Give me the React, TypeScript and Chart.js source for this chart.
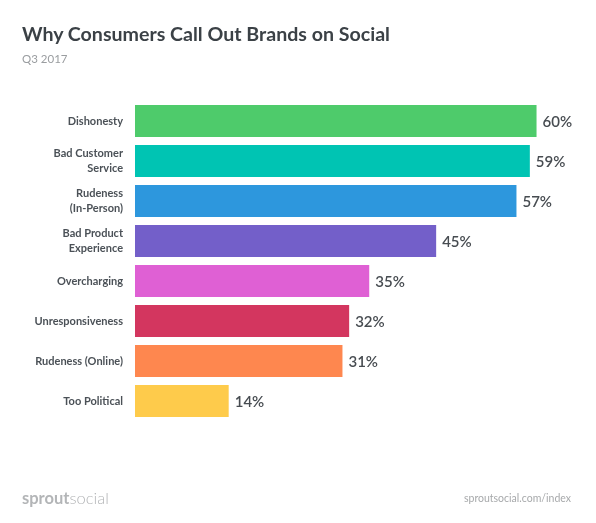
import React, { useEffect, useRef } from 'react';
import { Chart, registerables } from 'chart.js';

Chart.register(...registerables);

// Données
const reasons: (string | string[])[] = [
    'Dishonesty',
    ['Bad Customer', 'Service'],
    ['Rudeness', '(In-Person)'],
    ['Bad Product', 'Experience'],
    'Overcharging',
    'Unresponsiveness',
    'Rudeness (Online)',
    'Too Political',
];
const shares = [60, 59, 57, 45, 35, 32, 31, 14];
const barColors = ['#4ecb6b', '#00c4b3', '#2d97dd', '#735fc9', '#df60d4', '#d3365f', '#fe874f', '#fecb4b'];

const FONT = 'Lato, "Open Sans", sans-serif';

// Plugin pour écrire la valeur au bout de chaque barre
const valueLabels = {
    id: 'valueLabels',
    afterDatasetsDraw(chart: Chart) {
        const ctx = chart.ctx;
        const meta = chart.getDatasetMeta(0);
        ctx.save();
        ctx.font = `600 15px ${FONT}`;
        ctx.fillStyle = '#474c51';
        ctx.textAlign = 'left';
        ctx.textBaseline = 'middle';
        meta.data.forEach((bar: any, i: number) => {
            ctx.fillText(`${shares[i]}%`, bar.x + 6, bar.y + 1);
        });
        ctx.restore();
    },
};

const App: React.FC = () => {
    const canvasRef = useRef<HTMLCanvasElement | null>(null);
    const chartRef = useRef<Chart | null>(null);

    useEffect(() => {
        if (!canvasRef.current) return;
        if (chartRef.current) chartRef.current.destroy();

        chartRef.current = new Chart(canvasRef.current, {
            type: 'bar',
            data: {
                labels: reasons,
                datasets: [{
                    data: shares,
                    backgroundColor: barColors,
                    borderWidth: 0,
                    barPercentage: 0.8,
                    categoryPercentage: 1,
                }],
            },
            options: {
                indexAxis: 'y',
                animation: false,
                responsive: false,
                layout: { padding: { left: 0, right: 26, top: 101, bottom: 102 } },
                plugins: {
                    legend: { display: false },
                    tooltip: { enabled: false },
                },
                scales: {
                    x: {
                        display: false,
                        min: 0,
                        max: 65,
                    },
                    y: {
                        afterFit: (scale: any) => { scale.width = 135; },
                        grid: { display: false, drawTicks: false },
                        border: { display: false },
                        ticks: {
                            padding: 12,
                            color: '#4b5157',
                            font: { family: FONT, size: 11, weight: 'bold', lineHeight: 1.3 },
                        },
                    },
                },
            },
            plugins: [valueLabels],
        });

        return () => {
            if (chartRef.current) {
                chartRef.current.destroy();
                chartRef.current = null;
            }
        };
    }, []);

    return (
        <div style={{ position: 'absolute', left: 0, top: 0, width: 596, height: 523, background: '#fff', fontFamily: FONT }}>
            <canvas ref={canvasRef} width={596} height={523} style={{ position: 'absolute', left: 0, top: 0 }}></canvas>
            <div style={{ position: 'absolute', left: 22, top: 22, fontSize: 19.6, fontWeight: 700, color: '#3b4146', whiteSpace: 'nowrap' }}>
                Why Consumers Call Out Brands on Social
            </div>
            <div style={{ position: 'absolute', left: 22, top: 52, fontSize: 11.5, color: '#9a9da0', whiteSpace: 'nowrap' }}>
                Q3 2017
            </div>
            <div style={{ position: 'absolute', left: 22, top: 488, fontSize: 16.5, color: '#b3b5b7', whiteSpace: 'nowrap' }}>
                <span style={{ fontWeight: 700 }}>sprout</span><span style={{ fontWeight: 300 }}>social</span>
            </div>
            <div style={{ position: 'absolute', right: 25, top: 492, fontSize: 10.5, color: '#a7a9ab', whiteSpace: 'nowrap' }}>
                sproutsocial.com/index
            </div>
        </div>
    );
};

export default App;
